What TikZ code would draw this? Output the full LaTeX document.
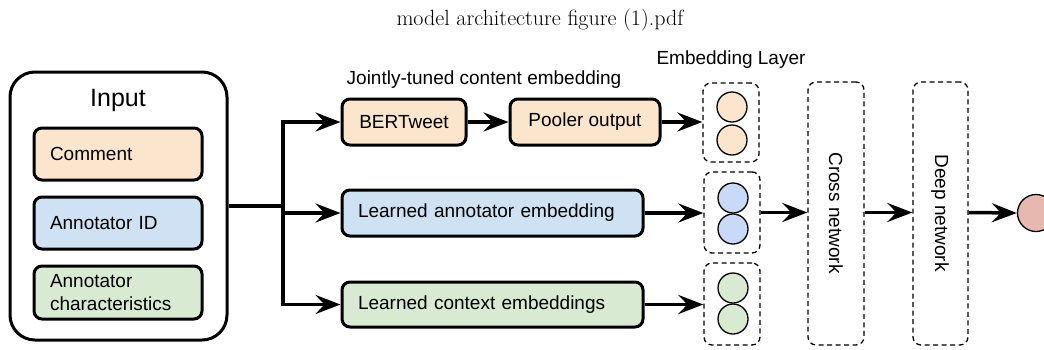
\documentclass[tikz,border=0pt]{standalone}
\usepackage{fontspec}
\newfontfamily\arialf{Liberation Sans}
\usetikzlibrary{arrows.meta}
\definecolor{peach}{HTML}{FCE5CD}
\definecolor{lblue}{HTML}{CFE2F3}
\definecolor{lgreen}{HTML}{D9EAD3}
\definecolor{cblue}{HTML}{C9DAF8}
\definecolor{berry}{HTML}{E6B8AF}
\tikzset{
  txt/.style={font=\arialf\fontsize{19}{23}\selectfont},
  solidbox/.style={txt, draw=black, line width=3pt, rounded corners=8pt, inner ysep=0pt},
  leftbox/.style={solidbox, align=left, inner xsep=16pt},
  dbox/.style={draw=black, line width=1.3pt, dash pattern=on 5pt off 3.5pt, rounded corners=8pt, inner sep=0pt},
  emb/.style={circle, draw=black, line width=1.3pt, minimum size=30pt, inner sep=0pt},
  line/.style={line width=3.5pt},
  arr/.style={line width=3.5pt, -{Stealth[length=25pt, width=19pt, inset=9pt]}},
}
\begin{document}
\begin{tikzpicture}[x=1pt,y=-1pt]
\useasboundingbox (0,0) rectangle (1044,349);
% title
\node[anchor=base, inner sep=0pt] (title) at (540,25) {\fontsize{22}{26}\selectfont model architecture figure (1).pdf};
% input
\node[draw=black, line width=3pt, rounded corners=25pt, minimum width=217pt, minimum height=268pt, inner sep=0pt] (input) at (118.5,206) {};
\node[txt, font=\arialf\fontsize{25}{28}\selectfont] (inlab) at (118,100) {Input};
\node[leftbox, fill=peach, text width=136pt, minimum height=52pt] (comment) at (118,154) {Comment};
\node[leftbox, fill=lblue, text width=136pt, minimum height=52pt] (annid) at (118,223) {Annotator ID};
\node[leftbox, fill=lgreen, text width=136pt, minimum height=53pt] (annch) at (118,292.5) {Annotator\\characteristics};
% middle column
\node[txt] (jlab) at (484,80) {Jointly-tuned content embedding};
\node[solidbox, fill=peach, minimum width=124pt, minimum height=46pt, inner xsep=0pt] (bert) at (404,122) {BERTweet};
\node[solidbox, fill=peach, minimum width=150pt, minimum height=46pt, inner xsep=0pt] (pool) at (585,122) {Pooler output};
\node[leftbox, fill=lblue, text width=269pt, minimum height=46pt] (lae) at (492.5,213) {Learned annotator embedding};
\node[leftbox, fill=lgreen, text width=269pt, minimum height=45pt] (lce) at (492.5,304.5) {Learned context embeddings};
% embedding layer
\node[txt] (elab) at (731,60) {Embedding Layer};
\node[dbox, minimum width=56pt, minimum height=79pt] (e1) at (731,122.5) {};
\node[dbox, minimum width=56pt, minimum height=81pt] (e2) at (732,212.5) {};
\node[dbox, minimum width=56pt, minimum height=82pt] (e3) at (732,304) {};
\node[emb, fill=peach] (c1a) at (732,107) {};
\node[emb, fill=peach] (c1b) at (732,140) {};
\node[emb, fill=cblue] (c2a) at (733,198) {};
\node[emb, fill=cblue] (c2b) at (733,229) {};
\node[emb, fill=lgreen] (c3a) at (733,288) {};
\node[emb, fill=lgreen] (c3b) at (733,319) {};
% cross / deep
\node[dbox, minimum width=56pt, minimum height=263pt] (cross) at (836,213.5) {};
\node[txt, rotate=-90] (crosslab) at (836,213) {Cross network};
\node[dbox, minimum width=55pt, minimum height=263pt] (deep) at (940.5,213.5) {};
\node[txt, rotate=-90] (deeplab) at (940,213) {Deep network};
\node[circle, draw=black, line width=1.3pt, fill=berry, minimum size=37pt, inner sep=0pt] (out) at (1036,213) {};
% connectors
\coordinate (jt) at (283,213);
\draw[line] (input.east) -- (input.east -| jt);
\draw[line, line cap=rect] (283,206) -- (jt);
\draw[arr] (jt) |- (bert.west);
\draw[arr] (jt) -- (lae.west);
\draw[arr] (jt) |- (lce.west);
\draw[arr] (bert.east) -- (pool.west);
\draw[arr] (pool.east) -- (pool.east -| e1.west);
\draw[arr] (lae.east) -- (lae.east -| e2.west);
\draw[arr] (lce.east) -- (lce.east -| e3.west);
\draw[arr] (e2.east) -- (e2.east -| cross.west);
\draw[arr] (cross.east |- e2.east) -- (e2.east -| deep.west);
\draw[arr] (deep.east |- e2.east) -- (out.west);
\end{tikzpicture}
\end{document}
